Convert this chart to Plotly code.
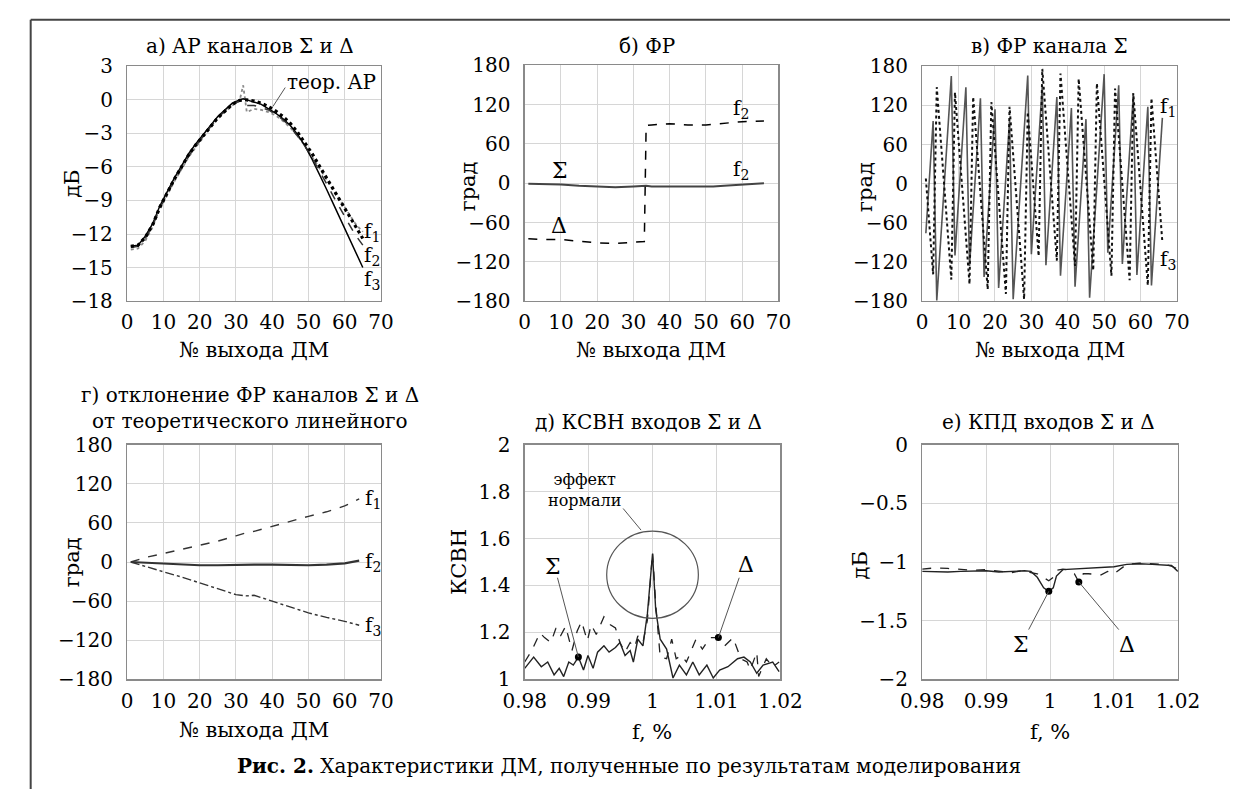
import plotly.graph_objects as go

W, H = 1252, 801
FONT = "DejaVu Serif"
FS = 20

# ---------------- DATA ----------------
# a) amplitude distribution (dB) vs output number
xa = [1, 3, 5, 7, 9, 11, 13, 15, 17, 19, 21, 23, 25, 27, 29, 31, 32, 33, 35, 37, 39, 41,
      43, 45, 47, 49, 51, 53, 55, 57, 59, 61, 63, 65]
a_teor = [-13.1, -13.0, -12.3, -11.2, -9.6, -8.3, -7.1, -6.0, -4.9, -4.0, -3.2, -2.4, -1.6, -1.0,
          -0.4, -0.05, 0.0, 0.0, -0.1, -0.3, -0.6, -1.0, -1.5, -2.1, -2.9, -3.8, -4.8, -5.9, -7.0,
          -8.1, -9.2, -10.3, -11.3, -12.4]
a_f1 = [-13.4, -13.3, -12.6, -11.4, -9.8, -8.5, -7.3, -6.2, -5.1, -4.2, -3.3, -2.5, -1.7, -1.1,
        -0.5, -0.1, 1.3, -1.1, -0.8, -0.9, -1.1, -1.4, -1.9, -2.5, -3.2, -4.1, -5.1, -6.1, -7.1,
        -8.2, -9.2, -10.2, -11.1, -11.8]
a_f2 = [-13.2, -13.1, -12.4, -11.3, -9.7, -8.4, -7.2, -6.1, -5.0, -4.1, -3.2, -2.4, -1.6, -1.0,
        -0.4, -0.1, 0.0, -0.5, -0.5, -0.7, -0.9, -1.3, -1.8, -2.4, -3.2, -4.1, -5.2, -6.3, -7.5,
        -8.7, -9.9, -11.0, -12.1, -13.0]
a_f3 = [-13.1, -13.0, -12.2, -11.1, -9.5, -8.2, -7.0, -5.9, -4.8, -3.9, -3.1, -2.3, -1.5, -0.9,
        -0.3, 0.0, 0.1, 0.0, -0.2, -0.4, -0.8, -1.2, -1.7, -2.3, -3.1, -4.1, -5.3, -6.6, -8.0,
        -9.4, -10.8, -12.2, -13.6, -15.0]

# b) phase distribution (deg)
xb = [1, 5, 10, 15, 20, 25, 30, 33, 33.5, 35, 40, 45, 50, 52, 55, 60, 66]
b_sigma = [-1, -1, -2, -4, -5, -6, -5, -4, -4, -5, -5, -6, -6, -5, -4, -2, 0]
b_delta = [-85, -86, -86, -89, -91, -92, -90, -89, 88, 89, 91, 89, 89, 90, 92, 94, 95]

# c) phase of Sigma channel (deg), f1 and f3
c_f1 = [-76, 10, 96, -179, -93, -7, 79, 165, -110, -24, 62, 148, -126, -41, 45, 131, -143, -57,
        28, 114, -160, -74, 12, 97, -177, -91, -5, 81, 166, -108, -22, 64, 150, -125, -39, 47,
        133, -141, -56, 30, 116, -158, -72, 13, 99, -175, -89, -3, 82, 168, -106, -20, 66, 151,
        -123, -37, 49, 135, -140, -54, 32, 118, -156, -71, 15, 101]
c_f3 = [8, -66, -139, 148, 74, 1, -73, -147, 140, 67, -7, -81, -154, 133, 59, -15, -88, -162,
        125, 52, -22, -96, -169, 118, 44, -30, -103, -177, 110, 37, -37, -111, 176, 103, 29, -45,
        -118, 169, 95, 22, -52, -126, 161, 88, 14, -60, -133, 154, 80, 7, -67, -141, 146, 73, -1,
        -75, -148, 139, 65, -9, -82, -156, 131, 58, -16, -90]
xc = list(range(1, len(c_f1) + 1))

# g) deviation of phase from theoretical linear (deg)
xg = [1, 5, 10, 15, 20, 25, 30, 33, 35, 40, 45, 50, 55, 60, 64]
g_f1 = [0, 7, 13, 19, 25, 32, 40, 45, 47, 55, 63, 70, 77, 86, 97]
g_f2 = [0, -1, -2, -4, -5, -5, -4, -4, -4, -4, -5, -5, -4, -2, 2]
g_f3 = [0, -7, -15, -23, -32, -41, -50, -52, -51, -60, -69, -78, -85, -91, -97]

# d) VSWR of inputs
xd_delta = [0.9800, 0.9811, 0.9824, 0.9831, 0.9841, 0.9849, 0.9856, 0.9864, 0.9874, 0.9882,
            0.9889, 0.9898, 0.9904, 0.9912, 0.9924, 0.9934, 0.9942, 0.9949, 0.9957, 0.9965,
            0.9972, 0.9977, 0.9985, 0.9992, 1.0000, 1.0005, 1.0012, 1.0022, 1.0030, 1.0037,
            1.0045, 1.0053, 1.0068, 1.0078, 1.0090, 1.0103, 1.0113, 1.0126, 1.0138, 1.0148,
            1.0153, 1.0163, 1.0166, 1.0178, 1.0188, 1.0198]
d_delta = [1.074, 1.123, 1.198, 1.178, 1.157, 1.219, 1.185, 1.226, 1.123, 1.205, 1.247, 1.164,
           1.233, 1.191, 1.267, 1.233, 1.219, 1.157, 1.116, 1.157, 1.136, 1.185, 1.157, 1.253,
           1.540, 1.322, 1.095, 1.088, 1.171, 1.088, 1.102, 1.074, 1.171, 1.129, 1.178, 1.178,
           1.143, 1.178, 1.088, 1.074, 1.040, 1.116, 1.012, 1.088, 1.054, 1.074]
xd_sigma = [0.9800, 0.9814, 0.9826, 0.9836, 0.9846, 0.9854, 0.9861, 0.9869, 0.9876, 0.9884,
            0.9892, 0.9899, 0.9907, 0.9914, 0.9924, 0.9932, 0.9942, 0.9949, 0.9957, 0.9965,
            0.9970, 0.9977, 0.9985, 0.9992, 1.0000, 1.0005, 1.0012, 1.0022, 1.0032, 1.0042,
            1.0053, 1.0063, 1.0073, 1.0085, 1.0095, 1.0105, 1.0118, 1.0133, 1.0143, 1.0153,
            1.0163, 1.0173, 1.0188, 1.0198]
d_sigma = [1.047, 1.095, 1.054, 1.074, 1.019, 1.047, 1.012, 1.074, 1.061, 1.095, 1.040, 1.102,
           1.047, 1.116, 1.143, 1.116, 1.136, 1.157, 1.102, 1.123, 1.074, 1.171, 1.143, 1.281,
           1.535, 1.295, 1.171, 1.129, 1.006, 1.061, 1.019, 1.074, 1.019, 1.061, 1.006, 1.040,
           1.054, 1.088, 1.095, 1.074, 1.026, 1.061, 1.074, 1.033]
d_dot_sigma = (0.9884, 1.095)
d_dot_delta = (1.0103, 1.178)

# e) efficiency of inputs (dB)
xe_sigma = [0.980, 0.982, 0.984, 0.986, 0.988, 0.990, 0.992, 0.994, 0.996, 0.997, 0.998, 0.999,
            0.9998, 1.0005, 1.001, 1.002, 1.004, 1.006, 1.008, 1.010, 1.012, 1.014, 1.016,
            1.018, 1.019, 1.020]
e_sigma = [-1.08, -1.085, -1.085, -1.08, -1.075, -1.075, -1.085, -1.08, -1.075, -1.08, -1.13,
           -1.22, -1.25, -1.22, -1.12, -1.065, -1.06, -1.055, -1.05, -1.04, -1.02, -1.015, -1.02,
           -1.025, -1.03, -1.08]
xe_delta = [0.980, 0.982, 0.984, 0.986, 0.988, 0.990, 0.992, 0.994, 0.996, 0.997, 0.998, 0.999,
            0.9998, 1.0005, 1.001, 1.002, 1.003, 1.0038, 1.0045, 1.0052, 1.006, 1.008, 1.009,
            1.010, 1.011, 1.012, 1.014, 1.016, 1.018, 1.019, 1.020]
e_delta = [-1.06, -1.05, -1.055, -1.06, -1.07, -1.065, -1.08, -1.09, -1.07, -1.09, -1.10, -1.13,
           -1.16, -1.13, -1.07, -1.06, -1.07, -1.10, -1.17, -1.10, -1.10, -1.11, -1.08, -1.10,
           -1.06, -1.02, -1.01, -1.015, -1.02, -1.035, -1.06]
e_dot_sigma = (0.9998, -1.25)
e_dot_delta = (1.0045, -1.17)

# tick values
ticks_n = [0, 10, 20, 30, 40, 50, 60, 70]
ticks_a_y = [3, 0, -3, -6, -9, -12, -15, -18]
ticks_deg = [180, 120, 60, 0, -60, -120, -180]
ticks_f = [0.98, 0.99, 1.0, 1.01, 1.02]
ticks_f_text = ["0.98", "0.99", "1", "1.01", "1.02"]
ticks_d_y = [1, 1.2, 1.4, 1.6, 1.8, 2]
ticks_d_text = ["1", "1.2", "1.4", "1.6", "1.8", "2"]
ticks_e_y = [0, -0.5, -1, -1.5, -2]
ticks_e_text = ["0", "\u22120.5", "\u22121", "\u22121.5", "\u22122"]


def mtxt(v):
    s = ("%g" % v)
    return s.replace("-", "\u2212")


def X(px):
    return px / W


def Y(py):
    return 1 - py / H


def axis(dom, rng, tv, tt, anchor, standoff):
    return dict(domain=dom, range=rng, tickmode="array", tickvals=tv, ticktext=tt,
                showgrid=True, gridcolor="#d6d6d6", gridwidth=1, showline=True,
                linecolor="#8a8a8a", linewidth=1.3, mirror=True, zeroline=False, ticks="",
                tickfont=dict(family=FONT, size=FS, color="black"), anchor=anchor,
                ticklabelstandoff=standoff)


fig = go.Figure()

# ---- a)
fig.add_trace(go.Scatter(x=xa, y=a_f1, mode="lines", line=dict(color="#8a8a8a", width=1.8, dash="dot"),
                         xaxis="x", yaxis="y"))
fig.add_trace(go.Scatter(x=xa, y=a_f3, mode="lines", line=dict(color="black", width=1.5),
                         xaxis="x", yaxis="y"))
fig.add_trace(go.Scatter(x=xa, y=a_f2, mode="lines", line=dict(color="#333", width=1.5, dash="dash"),
                         xaxis="x", yaxis="y"))
fig.add_trace(go.Scatter(x=xa, y=a_teor, mode="lines", line=dict(color="black", width=3.2, dash="dot"),
                         xaxis="x", yaxis="y"))
# ---- b)
fig.add_trace(go.Scatter(x=xb, y=b_sigma, mode="lines", line=dict(color="#444", width=2),
                         xaxis="x2", yaxis="y2"))
fig.add_trace(go.Scatter(x=xb, y=b_delta, mode="lines", line=dict(color="black", width=1.5, dash="dash"),
                         xaxis="x2", yaxis="y2"))
# ---- c)
fig.add_trace(go.Scatter(x=xc, y=c_f1, mode="lines", line=dict(color="#555", width=1.6),
                         xaxis="x3", yaxis="y3"))
fig.add_trace(go.Scatter(x=xc, y=c_f3, mode="lines", line=dict(color="#111", width=2, dash="dot"),
                         xaxis="x3", yaxis="y3"))
# ---- g)
fig.add_trace(go.Scatter(x=xg, y=g_f1, mode="lines", line=dict(color="#333", width=1.4, dash="dash"),
                         xaxis="x4", yaxis="y4"))
fig.add_trace(go.Scatter(x=xg, y=g_f2, mode="lines", line=dict(color="#333", width=2.2),
                         xaxis="x4", yaxis="y4"))
fig.add_trace(go.Scatter(x=xg, y=g_f3, mode="lines", line=dict(color="#333", width=1.4, dash="dashdot"),
                         xaxis="x4", yaxis="y4"))
# ---- d)
fig.add_trace(go.Scatter(x=xd_delta, y=d_delta, mode="lines", line=dict(color="#222", width=1.3, dash="dash"),
                         xaxis="x5", yaxis="y5"))
fig.add_trace(go.Scatter(x=xd_sigma, y=d_sigma, mode="lines", line=dict(color="#222", width=1.4),
                         xaxis="x5", yaxis="y5"))
fig.add_trace(go.Scatter(x=[d_dot_sigma[0], d_dot_delta[0]], y=[d_dot_sigma[1], d_dot_delta[1]],
                         mode="markers", marker=dict(color="black", size=7), xaxis="x5", yaxis="y5"))
# ---- e)
fig.add_trace(go.Scatter(x=xe_delta, y=e_delta, mode="lines", line=dict(color="#222", width=1.3, dash="dash"),
                         xaxis="x6", yaxis="y6"))
fig.add_trace(go.Scatter(x=xe_sigma, y=e_sigma, mode="lines", line=dict(color="#222", width=1.4),
                         xaxis="x6", yaxis="y6"))
fig.add_trace(go.Scatter(x=[e_dot_sigma[0], e_dot_delta[0]], y=[e_dot_sigma[1], e_dot_delta[1]],
                         mode="markers", marker=dict(color="black", size=7), xaxis="x6", yaxis="y6"))

n_text = [str(t) for t in ticks_n]
deg_text = [mtxt(t) for t in ticks_deg]

layout = dict(
    width=W, height=H, margin=dict(l=0, r=0, t=0, b=0), showlegend=False,
    paper_bgcolor="white", plot_bgcolor="white",
    font=dict(family=FONT, size=FS, color="black"),
    xaxis=axis([X(109), X(372)], [0, 70], ticks_n, n_text, "y", 3),
    yaxis=axis([Y(298), Y(56)], [-18, 3], ticks_a_y, [mtxt(t) for t in ticks_a_y], "x", 9),
    xaxis2=axis([X(521), X(784)], [0, 70], ticks_n, n_text, "y2", 3),
    yaxis2=axis([Y(298), Y(55)], [-180, 180], ticks_deg, deg_text, "x2", 9),
    xaxis3=axis([X(933), X(1197)], [0, 70], ticks_n, n_text, "y3", 3),
    yaxis3=axis([Y(298), Y(56)], [-180, 180], ticks_deg, deg_text, "x3", 9),
    xaxis4=axis([X(109), X(372)], [0, 70], ticks_n, n_text, "y4", 3),
    yaxis4=axis([Y(688), Y(446)], [-180, 180], ticks_deg, deg_text, "x4", 9),
    xaxis5=axis([X(521), X(786)], [0.98, 1.02], ticks_f, ticks_f_text, "y5", 3),
    yaxis5=axis([Y(688), Y(446)], [1, 2], ticks_d_y, ticks_d_text, "x5", 9),
    xaxis6=axis([X(933), X(1198)], [0.98, 1.02], ticks_f, ticks_f_text, "y6", 3),
    yaxis6=axis([Y(688), Y(446)], [-2, 0], ticks_e_y, ticks_e_text, "x6", 9),
)
fig.update_layout(**layout)

ann = []


def txt(text, px, py, size=FS, xanchor="center", angle=0):
    ann.append(dict(text=text, x=X(px), y=Y(py), xref="paper", yref="paper", showarrow=False,
                    xanchor=xanchor, yanchor="middle", textangle=angle,
                    font=dict(family=FONT, size=size, color="black")))


# titles
txt("а) АР каналов Σ и Δ", 236, 35)
txt("б) ФР", 648, 35)
txt("в) ФР канала Σ", 1065, 35)
txt("г) отклонение ФР каналов Σ и Δ", 236, 395)
txt("от теоретического линейного", 236, 422)
txt("д) КСВН входов Σ и Δ", 649, 423)
txt("е) КПД входов Σ и Δ", 1064, 423)
# axis titles
for cx, cy in [(240, 348), (652, 348), (1065, 348), (240, 740)]:
    txt("№ выхода ДМ", cx, cy, size=21)
txt("f, %", 653, 742, size=21)
txt("f, %", 1065, 742, size=21)
txt("дБ", 52, 177, size=21, angle=-90)
txt("град", 462, 180, size=21, angle=-90)
txt("град", 873, 180, size=21, angle=-90)
txt("град", 52, 567, size=21, angle=-90)
txt("КСВН", 453, 567, size=21, angle=-90)
txt("дБ", 868, 570, size=21, angle=-90)
# curve labels
txt("теор. АР", 321, 72)
txt("f<sub>1</sub>", 352, 227, xanchor="left")
txt("f<sub>2</sub>", 352, 252, xanchor="left")
txt("f<sub>3</sub>", 352, 276, xanchor="left")
txt("f<sub>2</sub>", 745, 100)
txt("Σ", 558, 163, size=22)
txt("f<sub>2</sub>", 745, 163)
txt("Δ", 557, 220, size=22)
txt("f<sub>1</sub>", 1177, 98, xanchor="left")
txt("f<sub>3</sub>", 1177, 256, xanchor="left")
txt("f<sub>1</sub>", 353, 502, xanchor="left")
txt("f<sub>2</sub>", 353, 567, xanchor="left")
txt("f<sub>3</sub>", 353, 633, xanchor="left")
txt("эффект<br>нормали", 583, 493, size=16)
txt("Σ", 550, 572, size=22)
txt("Δ", 750, 570, size=22)
txt("Σ", 1035, 652, size=22)
txt("Δ", 1145, 652, size=22)
txt("<b>Рис. 2.</b> Характеристики ДМ, полученные по результатам моделирования", 629, 777, size=20)
fig.update_layout(annotations=ann)

shapes = [
    # frame
    dict(type="line", xref="paper", yref="paper", x0=X(9), x1=1, y0=Y(8), y1=Y(8),
         line=dict(color="#444", width=2)),
    dict(type="line", xref="paper", yref="paper", x0=X(9), x1=X(9), y0=Y(8), y1=0,
         line=dict(color="#444", width=2)),
    # leaders
    dict(type="line", xref="x", yref="y", x0=43.6, y0=1.1, x1=40.2, y1=-0.6,
         line=dict(color="#555", width=1)),
    dict(type="circle", xref="x5", yref="y5", x0=0.99283, x1=1.00717, y0=1.26, y1=1.632,
         line=dict(color="#555", width=1.2)),
    dict(type="line", xref="x5", yref="y5", x0=0.9954, y0=1.728, x1=0.9982, y1=1.636,
         line=dict(color="#555", width=1)),
    dict(type="line", xref="x5", yref="y5", x0=0.98513, y0=1.433, x1=d_dot_sigma[0], y1=d_dot_sigma[1],
         line=dict(color="#555", width=1)),
    dict(type="line", xref="x5", yref="y5", x0=1.01356, y0=1.433, x1=d_dot_delta[0], y1=d_dot_delta[1],
         line=dict(color="#555", width=1)),
    dict(type="line", xref="x6", yref="y6", x0=0.99665, y0=-1.576, x1=e_dot_sigma[0], y1=e_dot_sigma[1],
         line=dict(color="#555", width=1)),
    dict(type="line", xref="x6", yref="y6", x0=1.01075, y0=-1.576, x1=e_dot_delta[0], y1=e_dot_delta[1],
         line=dict(color="#555", width=1)),
]
fig.update_layout(shapes=shapes)

fig.write_html("out.html", config={"displayModeBar": False, "staticPlot": True},
               post_script="document.body.style.margin='0';document.body.style.overflow='hidden';")
